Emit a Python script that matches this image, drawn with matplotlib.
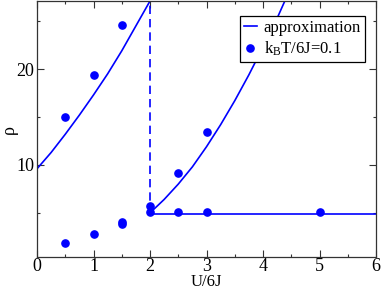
import matplotlib
matplotlib.use("Agg")
import matplotlib.pyplot as plt
from matplotlib.ticker import MultipleLocator

plt.rcParams["font.family"] = "Liberation Serif"
plt.rcParams["mathtext.fontset"] = "custom"
plt.rcParams["mathtext.rm"] = "Liberation Serif"
plt.rcParams["mathtext.it"] = "Liberation Serif:italic"

# ===================== DATA =====================
# simulation points, k_B T / 6J = 0.1
u_pts = [0.5, 1.0, 1.5, 0.5, 1.0, 1.5, 1.5, 2.0, 2.0, 2.5, 2.5, 3.0, 3.0, 5.0]
rho_pts = [15.0, 19.4, 24.6, 1.9, 2.8, 4.05, 3.85, 5.75, 5.08, 9.2, 5.08, 13.4, 5.08, 5.08]

# approximation, left branch (U/6J < 2)
u_left = [0.0, 0.25, 0.5, 0.75, 1.0, 1.25, 1.5, 1.75, 2.0]
rho_left = [9.6, 11.3, 13.2, 15.2, 17.3, 19.5, 21.9, 24.5, 27.1]

# approximation, upper right branch
u_right = [2.0, 2.25, 2.5, 2.75, 3.0, 3.25, 3.5, 3.75, 4.0, 4.25, 4.5]
rho_right = [5.0, 6.4, 8.0, 9.8, 11.9, 14.2, 16.7, 19.4, 22.3, 25.3, 28.6]

# approximation, flat branch
u_flat = [2.0, 6.0]
rho_flat = [4.9, 4.9]

# jump at U/6J = 2
u_jump = [2.0, 2.0]
rho_jump = [4.9, 27.2]

blue = "#0000ff"

# ===================== PLOT =====================
fig = plt.figure(figsize=(3.82, 2.91), dpi=100)
ax = fig.add_axes([37 / 382, 1 - 257 / 291, 339 / 382, 256 / 291])

ax.plot(u_left, rho_left, color=blue, lw=1.2, label="approximation")
ax.plot(u_right, rho_right, color=blue, lw=1.2)
ax.plot(u_flat, rho_flat, color=blue, lw=1.2)
ax.plot(u_jump, rho_jump, color=blue, lw=1.2, ls=(0, (5, 3)))
ax.plot(u_pts, rho_pts, ls="none", marker="o", ms=5.2, color=blue,
        label=r"k$_\mathrm{B}$T/6J=0.1")

ax.set_xlim(0, 6)
ax.set_ylim(0.4, 27.1)
ax.xaxis.set_major_locator(MultipleLocator(1))
ax.xaxis.set_minor_locator(MultipleLocator(0.5))
ax.yaxis.set_major_locator(MultipleLocator(10))
ax.yaxis.set_minor_locator(MultipleLocator(5))
ax.tick_params(which="both", direction="in", top=True, right=True,
               labelsize=13, colors="#333333", labelcolor="black", pad=2)
ax.tick_params(axis="x", pad=1)
ax.tick_params(which="major", length=5, width=0.8)
ax.tick_params(which="minor", length=2.5, width=0.8)
for s in ax.spines.values():
    s.set_color("#333333")
    s.set_linewidth(0.9)

ax.set_xlabel("U/6J", fontsize=12, labelpad=-1)
ax.set_ylabel("ρ", fontsize=13, labelpad=-1)

leg = ax.legend(loc="upper right", bbox_to_anchor=(0.968, 0.942), fontsize=12,
                handlelength=0.8, handletextpad=0.4, borderpad=0.25,
                labelspacing=0.2, fancybox=False, framealpha=1, borderaxespad=0)
leg.get_frame().set_edgecolor("black")
leg.get_frame().set_linewidth(0.9)

fig.savefig("out.png", dpi=100)
